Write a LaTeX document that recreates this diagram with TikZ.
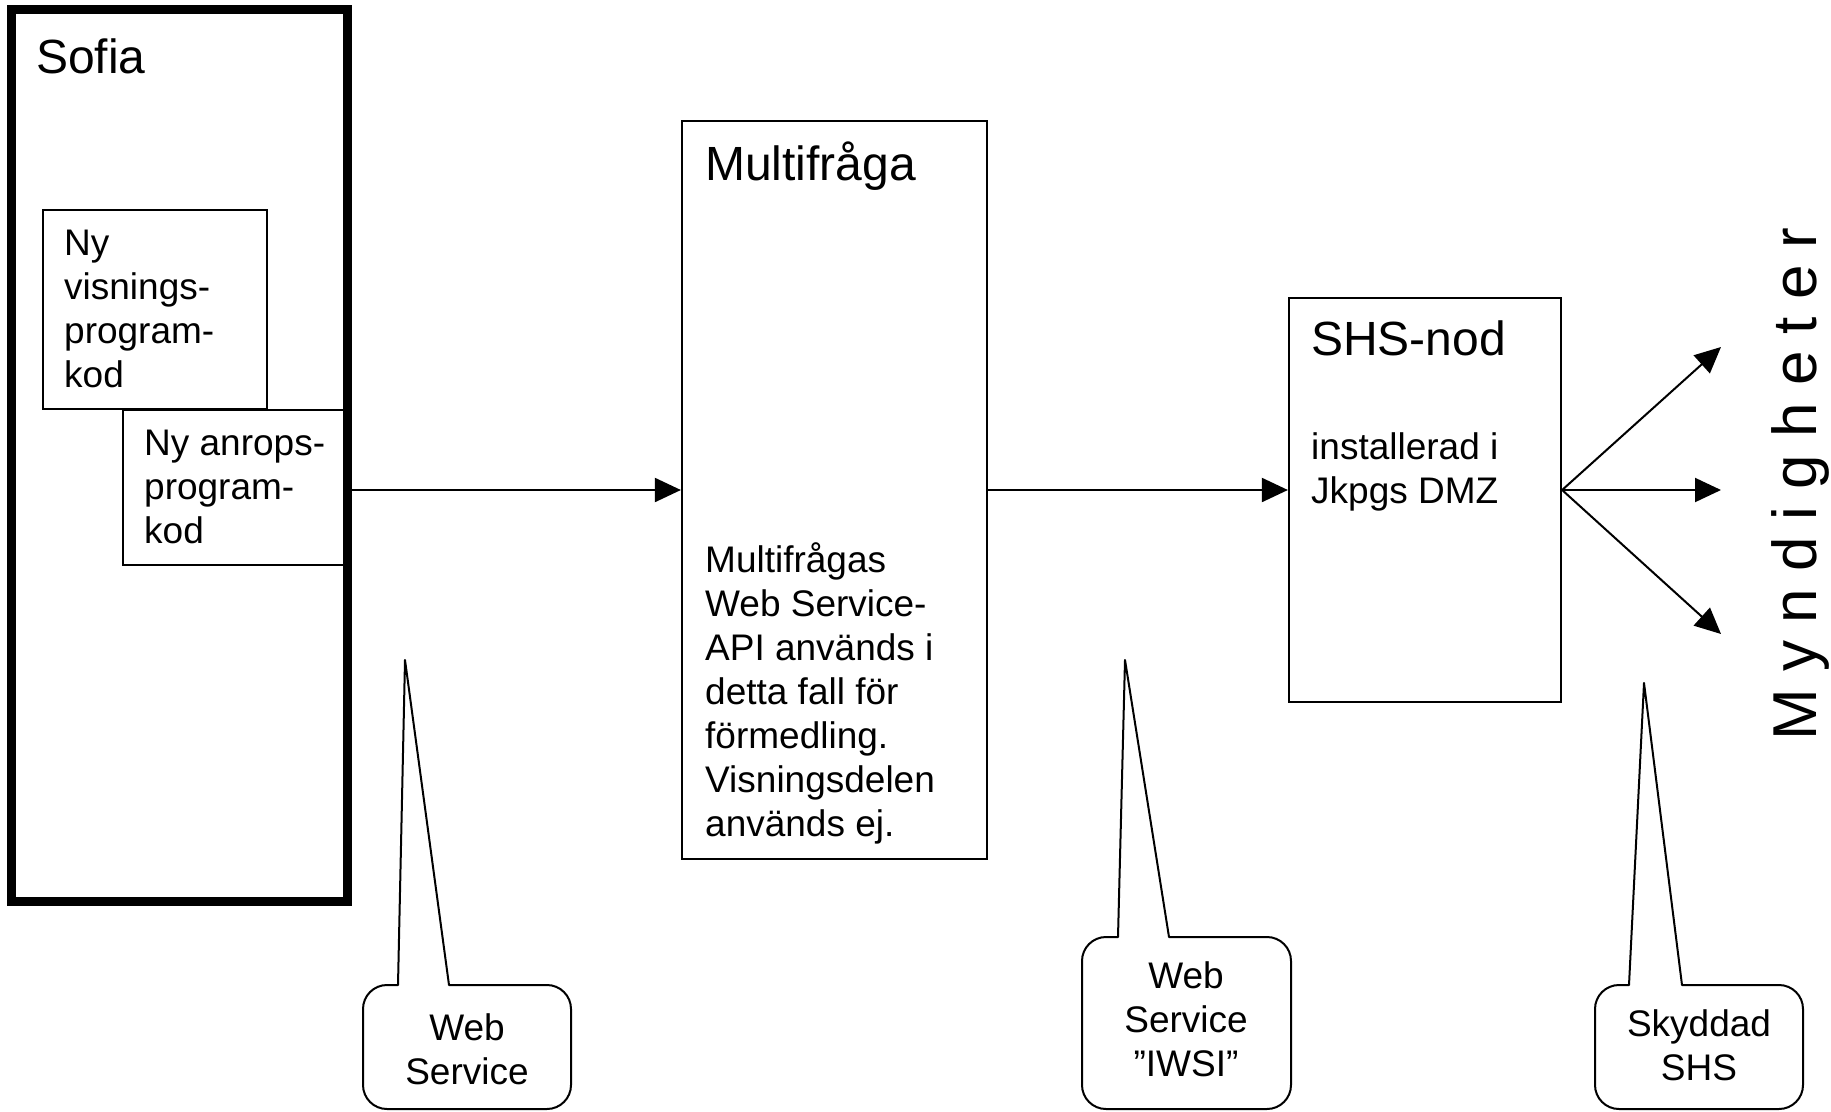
\documentclass[tikz,border=0pt]{standalone}
\usepackage{fontspec}
\setmainfont{Liberation Sans}
\usetikzlibrary{arrows.meta}
\newcommand\mycallout[7]{%
  \draw[calloutline] (#5,#3) -- (#7) -- (#6,#3) -- ({#2-24},#3)
    .. controls ({#2-10.75},#3) and (#2,{#3+10.75}) .. (#2,{#3+24})
    -- (#2,{#4-24}) .. controls (#2,{#4-10.75}) and ({#2-10.75},#4) .. ({#2-24},#4)
    -- ({#1+24},#4) .. controls ({#1+10.75},#4) and (#1,{#4-10.75}) .. (#1,{#4-24})
    -- (#1,{#3+24}) .. controls (#1,{#3+10.75}) and ({#1+10.75},#3) .. ({#1+24},#3)
    -- cycle;}
\begin{document}
\begin{tikzpicture}[x=1pt,y=-1pt,
  box/.style={draw, line width=2.2pt, inner sep=0pt, rectangle},
  sofiabox/.style={draw, line width=9pt, inner sep=0pt, rectangle},
  arr/.style={line width=2pt, -{Triangle[length=26pt,width=24pt]}},
  calloutline/.style={line width=2pt, line join=round},
  hdr/.style={inner sep=0pt, anchor=base west, font=\fontsize{48}{56}\selectfont},
  txt/.style={inner sep=0pt, anchor=base west, font=\fontsize{37}{44}\selectfont},
  ctxt/.style={inner sep=0pt, anchor=base, font=\fontsize{37}{44}\selectfont}]
\useasboundingbox[fill=white] (0,0) rectangle (1831,1111);

% inner boxes of Sofia
\node[box, minimum width=224pt, minimum height=199pt] (vis) at (155,309.5) {};
\node[box, minimum width=222pt, minimum height=155pt] (anr) at (234,487.5) {};
\node[sofiabox, minimum width=336pt, minimum height=892pt] (sofia) at (179,455) {};

% main boxes
\node[box, minimum width=305pt, minimum height=738pt] (mf) at (834.5,490) {};
\node[box, minimum width=272pt, minimum height=404pt] (shs) at (1425,500) {};

% texts
\node[hdr] (sofiaT) at (36,73) {Sofia};
\node[txt] (visT) at (64,255) {\parbox[t]{200pt}{\raggedright Ny\\visnings-\\program-\\kod}};
\node[txt] (anrT) at (144,455) {\parbox[t]{200pt}{\raggedright Ny anrops-\\program-\\kod}};
\node[hdr] (mfT) at (705,180) {Multifråga};
\node[txt] (mfB) at (705,572) {\parbox[t]{280pt}{\raggedright Multifrågas\\Web Service-\\API används i\\detta fall för\\förmedling.\\Visningsdelen\\används ej.}};
\node[hdr] (shsT) at (1311,355) {SHS-nod};
\node[txt] (shsB) at (1311,459) {\parbox[t]{240pt}{\raggedright installerad i\\Jkpgs DMZ}};
\node[inner sep=0pt, rotate=90, anchor=base, font=\fontsize{62}{70}\selectfont] (myn) at (1816,484) {M y n d i g h e t e r};

% connectors
\draw[arr] (sofia.east |- mf.west) -- (mf.west);
\draw[arr] (mf.east) -- (mf.east -| shs.west);
\coordinate (fan) at (shs.east |- mf.east);
\coordinate (t1) at (1721,347);
\coordinate (t2) at (1721,490);
\coordinate (t3) at (1721,634);
\draw[arr] (fan) -- (t1);
\draw[arr] (fan) -- (t2);
\draw[arr] (fan) -- (t3);

% callouts
\coordinate (ap1) at (405,660);
\coordinate (ap2) at (1125,660);
\coordinate (ap3) at (1644,683);
\mycallout{363}{571}{985}{1109}{398}{449}{ap1}
\mycallout{1082}{1291}{937}{1109}{1118}{1169}{ap2}
\mycallout{1595}{1803}{985}{1109}{1629}{1682}{ap3}
\node[ctxt] (c1T) at (467,1040) {\parbox[t]{200pt}{\centering Web\\Service}};
\node[ctxt] (c2T) at (1186,988) {\parbox[t]{200pt}{\centering Web\\Service\\”IWSI”}};
\node[ctxt] (c3T) at (1699,1036) {\parbox[t]{200pt}{\centering Skyddad\\SHS}};
\end{tikzpicture}
\end{document}
